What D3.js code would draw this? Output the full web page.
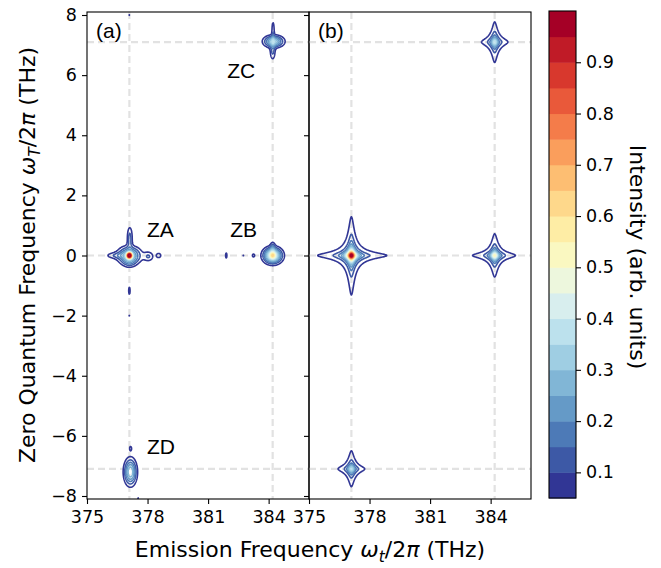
<!DOCTYPE html>
<html><head><meta charset="utf-8">
<script src="https://cdn.jsdelivr.net/npm/d3@7"></script>
<style>body{margin:0;background:#fff} svg{display:block}</style>
</head><body>
<script>
// ---------------- data ----------------
const xDomain = [375, 386];
const yDomain = [-8.1, 8.1];
const xTicks = [375, 378, 381, 384];
const yTicks = [-8, -6, -4, -2, 0, 2, 4, 6, 8];
const cbTicks = [0.1, 0.2, 0.3, 0.4, 0.5, 0.6, 0.7, 0.8, 0.9];
const levels = [0.05,0.10,0.15,0.20,0.25,0.30,0.35,0.40,0.45,0.50,0.55,0.60,0.65,0.70,0.75,0.80,0.85,0.90,0.95,1.00];
const refX = [377.1, 384.2];
const refY = [-7.1, 0, 7.1];
const peakNames = ["ZA", "ZB", "ZC", "ZD"];
const peakNameX = [377.97, 382.1, 381.95, 377.97];
const peakNameY = [0.6, 0.6, 5.9, -6.6];
const panelNames = ["(a)", "(b)"];

// experimental map (a): Gaussian components (centre x, centre y, amplitude, widths)
const expX   = [377.1, 377.1, 376.4, 377.12, 377.1, 378.05, 378.55, 377.1, 377.1, 377.1,
                384.2, 384.2, 384.2, 383.25, 381.9, 382.75,
                384.25, 384.22, 384.2,
                377.15, 377.16, 377.53];
const expY   = [0.0, 0.0, 0.0, 0.58, -0.2, -0.03, 0.0, -1.17, -2.0, 8.0,
                0.0, 0.0, 0.25, 0.0, 0.0, 0.0,
                7.12, 7.45, 6.8,
                -7.2, -6.42, -8.07];
const expAmp = [0.75, 0.30, 0.08, 0.12, 0.08, 0.10, 0.085, 0.08, 0.06, 0.06,
                0.45, 0.15, 0.10, 0.075, 0.07, 0.06,
                0.30, 0.09, 0.11,
                0.30, 0.075, 0.06];
const expSx  = [0.08, 0.35, 0.35, 0.09, 0.2, 0.17, 0.10, 0.035, 0.025, 0.025,
                0.28, 0.08, 0.08, 0.06, 0.04, 0.03,
                0.30, 0.05, 0.09,
                0.19, 0.05, 0.025];
const expSy  = [0.06, 0.18, 0.07, 0.26, 0.12, 0.11, 0.065, 0.12, 0.02, 0.02,
                0.16, 0.06, 0.14, 0.05, 0.10, 0.02,
                0.12, 0.27, 0.2,
                0.27, 0.07, 0.02];

// simulated map (b): peak positions, amplitudes and linewidths
const simX   = [377.1, 384.2, 384.2, 377.1];
const simY   = [0.0, 0.0, 7.1, -7.1];
const simAmp = [1.0, 0.5, 0.38, 0.35];
const simWx  = [0.13, 0.134, 0.122, 0.131];
const simWy  = [0.103, 0.10, 0.12, 0.107];
const simPow = 0.6;

// ---------------- layout ----------------
const W = 661, H = 568;
const plotTop = 12, plotBottom = 499;
const panels = [{x0: 87, x1: 309}, {x0: 309, x1: 531}];
const cb = {x0: 549, x1: 576, y0: 11, y1: 498};
const tickFont = "DejaVu Sans, sans-serif";
const tickSize = 17.5, titleSize = 22;

const svg = d3.select("body").append("svg").attr("width", W).attr("height", H);
const yScale = d3.scaleLinear().domain(yDomain).range([plotBottom, plotTop]);
const colorOf = i => d3.interpolateRdYlBu(1 - i / (levels.length - 2));

function fieldExp(x, y) {
  let s = 0;
  for (let k = 0; k < expX.length; k++) {
    const dx = (x - expX[k]) / expSx[k], dy = (y - expY[k]) / expSy[k];
    const r = dx * dx + dy * dy;
    if (r < 40) s += expAmp[k] * Math.exp(-0.5 * r);
  }
  return s;
}
function fieldSim(x, y) {
  let s = 0;
  for (let k = 0; k < simX.length; k++) {
    const u = (x - simX[k]) / simWx[k], v = (y - simY[k]) / simWy[k];
    s += simAmp[k] / Math.pow((1 + u * u) * (1 + v * v), simPow);
  }
  return s;
}

const defs = svg.append("defs");

panels.forEach((p, pi) => {
  const xScale = d3.scaleLinear().domain(xDomain).range([p.x0, p.x1]);
  const g = svg.append("g");
  defs.append("clipPath").attr("id", "clip" + pi).append("rect")
    .attr("x", p.x0).attr("y", plotTop).attr("width", p.x1 - p.x0).attr("height", plotBottom - plotTop);

  const ref = g.append("g").attr("clip-path", `url(#clip${pi})`);
  refX.forEach(v => ref.append("line").attr("x1", xScale(v)).attr("x2", xScale(v))
    .attr("y1", plotTop).attr("y2", plotBottom).attr("stroke", "#e2e2e2").attr("stroke-width", 2.2)
    .attr("stroke-dasharray", "7,4"));
  refY.forEach(v => ref.append("line").attr("x1", p.x0).attr("x2", p.x1)
    .attr("y1", yScale(v)).attr("y2", yScale(v)).attr("stroke", "#e2e2e2").attr("stroke-width", 2.2)
    .attr("stroke-dasharray", "7,4"));

  const nx = Math.round((p.x1 - p.x0) * 2), ny = Math.round((plotBottom - plotTop) * 2);
  const dx = (xDomain[1] - xDomain[0]) / nx, dy = (yDomain[1] - yDomain[0]) / ny;
  const vals = new Float64Array(nx * ny);
  const f = pi === 0 ? fieldExp : fieldSim;
  for (let j = 0; j < ny; j++) {
    const yv = yDomain[1] - (j + 0.5) * dy;
    for (let i = 0; i < nx; i++) {
      vals[j * nx + i] = f(xDomain[0] + (i + 0.5) * dx, yv);
    }
  }
  const thresholds = levels.slice(0, -1);
  const contours = d3.contours().size([nx, ny]).thresholds(thresholds)(vals);
  const proj = d3.geoTransform({
    point: function(gx, gy) { this.stream.point(xScale(xDomain[0] + gx * dx), yScale(yDomain[1] - gy * dy)); }
  });
  const path = d3.geoPath(proj);
  g.append("g").attr("clip-path", `url(#clip${pi})`)
    .selectAll("path").data(contours).join("path")
    .attr("d", path).attr("fill", "none")
    .attr("stroke", (d, i) => colorOf(i)).attr("stroke-width", 1.6)
    .attr("stroke-linejoin", "round");

  g.append("rect").attr("x", p.x0).attr("y", plotTop).attr("width", p.x1 - p.x0).attr("height", plotBottom - plotTop)
    .attr("fill", "none").attr("stroke", "#000").attr("stroke-width", 1.1);

  const xAxis = d3.axisBottom(xScale).tickValues(xTicks).tickSize(5).tickPadding(7).tickFormat(d3.format("d"));
  const xa = g.append("g").attr("transform", `translate(0,${plotBottom})`).call(xAxis);
  const yAxis = d3.axisLeft(yScale).tickValues(yTicks).tickSize(5).tickPadding(5)
    .tickFormat(pi === 0 ? (d => d < 0 ? "\u2212" + Math.abs(d) : d) : () => "");
  const ya = g.append("g").attr("transform", `translate(${p.x0},0)`).call(yAxis);
  [xa, ya].forEach(a => {
    a.select(".domain").remove();
    a.selectAll("line").attr("stroke", "#000").attr("stroke-width", 1.1);
    a.selectAll("text").attr("font-family", tickFont).attr("font-size", tickSize).attr("fill", "#000");
  });

  g.append("text").attr("x", p.x0 + 9).attr("y", plotTop + 26).text(panelNames[pi])
    .attr("font-family", "Liberation Sans, Arial, sans-serif").attr("font-size", 21);

  if (pi === 0) {
    peakNames.forEach((n, k) => g.append("text").attr("x", xScale(peakNameX[k])).attr("y", yScale(peakNameY[k]))
      .text(n).attr("font-family", "Liberation Sans, Arial, sans-serif").attr("font-size", 21));
  }
});

const cScale = d3.scaleLinear().domain([levels[0], levels[levels.length - 1]]).range([cb.y1, cb.y0]);
const cbg = svg.append("g");
for (let i = 0; i < levels.length - 1; i++) {
  cbg.append("rect").attr("x", cb.x0).attr("width", cb.x1 - cb.x0)
    .attr("y", cScale(levels[i + 1])).attr("height", cScale(levels[i]) - cScale(levels[i + 1]) + 0.5)
    .attr("fill", colorOf(i));
}
cbg.append("rect").attr("x", cb.x0).attr("y", cb.y0).attr("width", cb.x1 - cb.x0).attr("height", cb.y1 - cb.y0)
  .attr("fill", "none").attr("stroke", "#000").attr("stroke-width", 1.1);
const cAxis = d3.axisRight(cScale).tickValues(cbTicks).tickSize(5).tickPadding(5).tickFormat(d3.format(".1f"));
const ca = cbg.append("g").attr("transform", `translate(${cb.x1},0)`).call(cAxis);
ca.select(".domain").remove();
ca.selectAll("line").attr("stroke", "#000").attr("stroke-width", 1.1);
ca.selectAll("text").attr("font-family", tickFont).attr("font-size", tickSize).attr("fill", "#000");

function mathLabel(t, head, sub) {
  t.append("tspan").text(head);
  t.append("tspan").text("\u03c9").attr("font-style", "italic");
  t.append("tspan").text(sub).attr("font-style", "italic").attr("font-size", titleSize * 0.7).attr("dy", 5);
  t.append("tspan").text("/2").attr("dy", -5);
  t.append("tspan").text("\u03c0").attr("font-style", "italic");
  t.append("tspan").text(" (THz)");
}
const xt = svg.append("text").attr("x", 310).attr("y", 557).attr("text-anchor", "middle")
  .attr("font-family", tickFont).attr("font-size", titleSize);
mathLabel(xt, "Emission Frequency ", "t");

const yt = svg.append("text").attr("transform", "translate(35,255) rotate(-90)").attr("text-anchor", "middle")
  .attr("font-family", tickFont).attr("font-size", titleSize);
mathLabel(yt, "Zero Quantum Frequency ", "T");

svg.append("text").attr("transform", "translate(630,257) rotate(90)").attr("text-anchor", "middle")
  .attr("font-family", tickFont).attr("font-size", titleSize).text("Intensity (arb. units)");
</script>
</body></html>
